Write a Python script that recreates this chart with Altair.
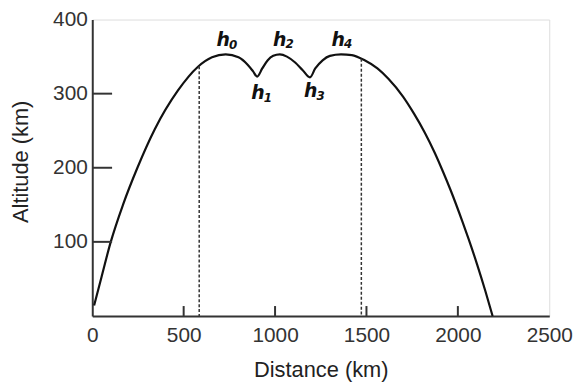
import altair as alt
import pandas as pd

# Curve: distance (km), altitude (km)
dist = [10, 50, 100, 168, 247, 342, 468, 577, 655, 730,
        800, 850, 880, 902,
        930, 960, 990, 1026,
        1065, 1110, 1150, 1191,
        1220, 1260, 1300, 1361,
        1420, 1490, 1560, 1620, 1700, 1760, 1820, 1874, 1920, 1960,
        2024, 2060, 2106, 2150, 2190]
alt_km = [14, 52, 99, 150, 200, 252, 304, 336, 349, 353,
          349, 339, 330, 323,
          334, 345, 351, 353,
          350, 342, 332, 322,
          334, 345, 351, 353,
          352, 345, 334, 320, 296, 273, 247, 220, 194, 170,
          128, 103, 69, 34, 0]

# Dashed verticals
dash_d = [585, 1472]
dash_a = [337, 347]

# Peak / trough labels
lab_txt = ["h", "h", "h", "h", "h"]
lab_sub = ["0", "1", "2", "3", "4"]
lab_d = [716, 907, 1026, 1195, 1345]
lab_a = [372, 301, 373, 303, 373]

x_ticks = [500, 1000, 1500, 2000]
y_ticks = [100, 200, 300]

curve = pd.DataFrame({"d": dist, "a": alt_km, "i": range(len(dist))})
dashes = pd.DataFrame({"d": dash_d, "a": dash_a})
labels = pd.DataFrame({"d": lab_d, "a": lab_a, "t": lab_txt, "s": lab_sub})
xt = pd.DataFrame({"d": x_ticks})
yt = pd.DataFrame({"a": y_ticks})

xscale = alt.Scale(domain=[0, 2500], nice=False)
yscale = alt.Scale(domain=[0, 400], nice=False)

xaxis = alt.Axis(values=[0, 500, 1000, 1500, 2000, 2500], ticks=False, grid=False,
                 format="d",
                 labelFontSize=21, labelFont="Liberation Sans", labelColor="#333",
                 labelPadding=9, title="Distance (km)", titleFontSize=22,
                 titleFont="Liberation Sans", titleFontWeight="normal",
                 titleColor="#222", titlePadding=14, domainColor="#333",
                 domainWidth=2, labelFlush=False)
yaxis = alt.Axis(values=[100, 200, 300, 400], ticks=False, grid=False,
                 format="d",
                 labelFontSize=21, labelFont="Liberation Sans", labelColor="#333",
                 labelPadding=5, title="Altitude (km)", titleFontSize=22,
                 titleFont="Liberation Sans", titleFontWeight="normal",
                 titleColor="#222", titleAngle=270, titleAlign="center",
                 titleBaseline="middle", titleX=-72, titleY=143,
                 domainColor="#333", domainWidth=2, labelFlush=False)

line = alt.Chart(curve).mark_line(color="#111", strokeWidth=2.2,
                                  interpolate="monotone").encode(
    x=alt.X("d:Q", scale=xscale, axis=xaxis),
    y=alt.Y("a:Q", scale=yscale, axis=yaxis),
    order="i:Q",
)

dash = alt.Chart(dashes).mark_rule(color="#333", strokeWidth=1.5,
                                   strokeDash=[3, 2]).encode(
    x=alt.X("d:Q", scale=xscale),
    y=alt.Y("a:Q", scale=yscale),
    y2=alt.value(299),
)

ytk = alt.Chart(yt).mark_rule(color="#333", strokeWidth=2).encode(
    y=alt.Y("a:Q", scale=yscale),
    x=alt.value(0), x2=alt.value(20),
)
xtk = alt.Chart(xt).mark_rule(color="#333", strokeWidth=2).encode(
    x=alt.X("d:Q", scale=xscale),
    y=alt.value(299), y2=alt.value(289),
)

h = alt.Chart(labels).mark_text(fontSize=19, fontStyle="italic", fontWeight="bold",
                                font="DejaVu Sans", color="#111",
                                baseline="middle").encode(
    x=alt.X("d:Q", scale=xscale), y=alt.Y("a:Q", scale=yscale), text="t:N")
sub = alt.Chart(labels).mark_text(fontSize=12, fontStyle="italic", fontWeight="bold",
                                  font="DejaVu Sans", color="#111",
                                  baseline="middle", dx=10, dy=5).encode(
    x=alt.X("d:Q", scale=xscale), y=alt.Y("a:Q", scale=yscale), text="s:N")

chart = alt.layer(line, dash, ytk, xtk, h, sub).properties(
    width=461, height=299,
    autosize=alt.AutoSizeParams(type="none"),
    padding={"left": 85, "top": 10, "right": 30, "bottom": 70},
).configure_view(stroke="#333", strokeWidth=2).configure(background="white")

chart.save("out.html", embed_options={"renderer": "svg", "actions": False})
